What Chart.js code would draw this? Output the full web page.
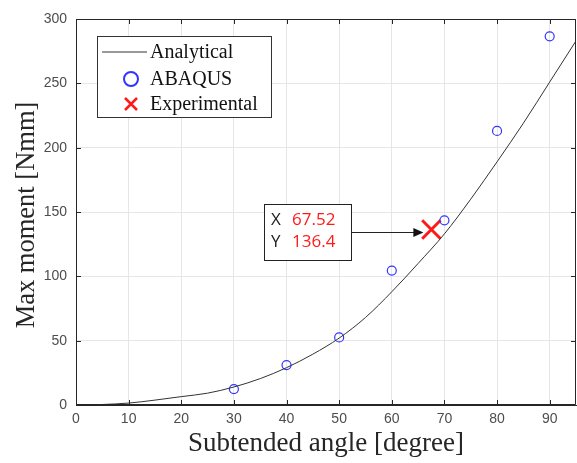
<!DOCTYPE html>
<html>
<head>
<meta charset="utf-8">
<script src="https://cdn.jsdelivr.net/npm/chart.js@4/dist/chart.umd.min.js"></script>
<style>
html, body { margin: 0; padding: 0; background: #fff; }
</style>
</head>
<body>
<canvas id="chart" width="577" height="463"></canvas>
<script>
const curveAngles = [0, 5, 10, 15, 20, 25, 30, 35, 40, 45, 50, 55, 60, 65, 70, 75, 80, 85, 90, 95];
const curveMoments = [0, 0.4, 1.5, 3.8, 6.5, 9.2, 14, 20.5, 29, 39.5, 52, 68, 88, 110, 133, 160, 189, 219, 251, 283];
const abaqusAngles = [30, 40, 50, 60, 70, 80, 90];
const abaqusMoments = [12.4, 31, 52.5, 104.5, 143.5, 213, 286.5];
const expAngles = [67.52];
const expMoments = [136.4];
const seriesNames = ["Analytical", "ABAQUS", "Experimental"];
const xTitle = "Subtended angle [degree]";
const yTitle = "Max moment [Nmm]";

const toPoints = (xs, ys) => xs.map((x, i) => ({ x: x, y: ys[i] }));

const AXIS = "#262626";
const TICK = "#4d4d4d";
const BLUE = "#3434ff";
const RED = "#ff1a1a";
const tickFont = { family: "'Liberation Sans'", size: 14 };

const extras = {
  id: "extras",
  afterDraw(chart) {
    const { ctx, chartArea: a, scales } = chart;
    const xs = scales.x, ys = scales.y;
    ctx.save();

    // box and inward ticks
    ctx.strokeStyle = AXIS;
    ctx.lineWidth = 1;
    ctx.beginPath();
    ctx.rect(a.left + 0.5, a.top + 0.5, a.right - a.left - 1, a.bottom - a.top - 1);
    xs.ticks.forEach(t => {
      const px = Math.round(xs.getPixelForValue(t.value)) + 0.5;
      ctx.moveTo(px, a.bottom); ctx.lineTo(px, a.bottom - 5);
      ctx.moveTo(px, a.top); ctx.lineTo(px, a.top + 5);
    });
    ys.ticks.forEach(t => {
      const py = Math.round(ys.getPixelForValue(t.value)) + 0.5;
      ctx.moveTo(a.left, py); ctx.lineTo(a.left + 5, py);
      ctx.moveTo(a.right, py); ctx.lineTo(a.right - 5, py);
    });
    ctx.stroke();

    // axis titles
    ctx.fillStyle = AXIS;
    ctx.textAlign = "center";
    ctx.textBaseline = "middle";
    ctx.font = "27px 'Liberation Serif'";
    ctx.fillText(xTitle, (a.left + a.right) / 2, 444);
    ctx.font = "26.5px 'Liberation Serif'";
    ctx.save();
    ctx.translate(27, 215);
    ctx.rotate(-Math.PI / 2);
    ctx.fillText(yTitle, 0, 0);
    ctx.restore();

    // legend
    const lx = 97, ly = 36, lw = 174, lh = 81;
    ctx.fillStyle = "#fff";
    ctx.fillRect(lx, ly, lw, lh);
    ctx.strokeStyle = "#333";
    ctx.strokeRect(lx + 0.5, ly + 0.5, lw, lh);
    const rows = [52, 79, 104];
    ctx.lineWidth = 1;
    ctx.beginPath();
    ctx.moveTo(102, rows[0]); ctx.lineTo(147, rows[0]);
    ctx.stroke();
    ctx.strokeStyle = BLUE;
    ctx.lineWidth = 2;
    ctx.beginPath();
    ctx.arc(131, rows[1], 7, 0, Math.PI * 2);
    ctx.stroke();
    ctx.strokeStyle = RED;
    ctx.lineWidth = 2.5;
    ctx.beginPath();
    ctx.moveTo(125, rows[2] - 6); ctx.lineTo(137, rows[2] + 6);
    ctx.moveTo(137, rows[2] - 6); ctx.lineTo(125, rows[2] + 6);
    ctx.stroke();
    ctx.fillStyle = "#111";
    ctx.font = "20px 'Liberation Serif'";
    ctx.textAlign = "left";
    seriesNames.forEach((n, i) => ctx.fillText(n, 150, rows[i] + 1));

    // data tip
    const px = xs.getPixelForValue(expAngles[0]);
    const py = ys.getPixelForValue(expMoments[0]);
    const bx = Math.round(px - 167), by = Math.round(py - 25), bw = 87, bh = 56;
    ctx.fillStyle = "#fff";
    ctx.fillRect(bx, by, bw, bh);
    ctx.strokeStyle = "#222";
    ctx.lineWidth = 1;
    ctx.strokeRect(bx + 0.5, by + 0.5, bw, bh);
    const ay = by + 28.5;
    ctx.beginPath();
    ctx.moveTo(bx + bw, ay); ctx.lineTo(px - 16, ay);
    ctx.stroke();
    ctx.fillStyle = "#111";
    ctx.beginPath();
    ctx.moveTo(px - 8, ay); ctx.lineTo(px - 18, ay - 4.5); ctx.lineTo(px - 18, ay + 4.5);
    ctx.closePath();
    ctx.fill();
    ctx.font = "17px 'Open Sans'";
    ctx.textBaseline = "middle";
    ctx.fillStyle = "#222";
    ctx.fillText("X", bx + 7, by + 16);
    ctx.fillText("Y", bx + 7, by + 38);
    ctx.fillStyle = RED;
    ctx.fillText(expAngles[0].toFixed(2), bx + 28, by + 16);
    ctx.fillText(expMoments[0].toFixed(1), bx + 28, by + 38);

    ctx.restore();
  }
};

new Chart(document.getElementById("chart"), {
  type: "scatter",
  data: {
    datasets: [
      {
        label: seriesNames[0],
        type: "line",
        data: toPoints(curveAngles, curveMoments),
        borderColor: "#333",
        borderWidth: 1,
        pointRadius: 0,
        cubicInterpolationMode: "monotone",
        fill: false,
      },
      {
        label: seriesNames[1],
        data: toPoints(abaqusAngles, abaqusMoments),
        pointStyle: "circle",
        pointRadius: 4.5,
        borderColor: BLUE,
        borderWidth: 1.2,
        backgroundColor: "rgba(0,0,0,0)",
      },
      {
        label: seriesNames[2],
        data: toPoints(expAngles, expMoments),
        pointStyle: "crossRot",
        pointRadius: 13,
        borderColor: RED,
        borderWidth: 3,
      },
    ],
  },
  options: {
    responsive: false,
    animation: false,
    layout: { autoPadding: false, padding: { top: 19, right: 1, left: 0, bottom: 0 } },
    plugins: {
      legend: { display: false },
      tooltip: { enabled: false },
    },
    scales: {
      x: {
        type: "linear",
        min: 0,
        max: 95,
        afterFit: (s) => { s.height = 58; },
        ticks: {
          stepSize: 10,
          includeBounds: false,
          padding: 6,
          color: TICK,
          font: tickFont,
        },
        grid: { color: "#e6e6e6", drawTicks: false },
        border: { color: AXIS },
      },
      y: {
        min: 0,
        max: 300,
        afterFit: (s) => { s.width = 76; },
        ticks: {
          stepSize: 50,
          padding: 9,
          color: TICK,
          font: tickFont,
        },
        grid: { color: "#e6e6e6", drawTicks: false },
        border: { color: AXIS },
      },
    },
  },
  plugins: [extras],
});
</script>
</body>
</html>
